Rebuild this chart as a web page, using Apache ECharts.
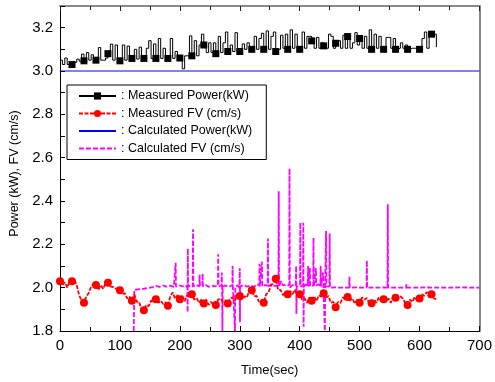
<!DOCTYPE html>
<html>
<head>
<meta charset="utf-8">
<script src="https://cdn.jsdelivr.net/npm/echarts/dist/echarts.min.js"></script>
<style>
html,body{margin:0;padding:0;background:#fff;}
#chart{width:495px;height:382px;}
</style>
</head>
<body>
<div id="chart"></div>
<script>
// ---- data ----
const seriesNames = ['Measured Power(kW)', 'Measured FV (cm/s)', 'Calculated Power(kW)', 'Calculated FV (cm/s)'];
const xTicks = [0, 100, 200, 300, 400, 500, 600, 700];
const yTicks = [1.8, 2.0, 2.2, 2.4, 2.6, 2.8, 3.0, 3.2];
const sampleStepSec = 4; // measured series sampled every 4 s, starting at 0 s

const measuredPower = [
  3.05,3.03,3.06,3.03,3.03,3.03,3.04,3.055,3.045,3.078,
  3.047,3.085,3.05,3.075,3.05,3.05,3.108,3.05,3.05,3.06,
  3.08,3.124,3.05,3.12,3.05,3.047,3.12,3.05,3.115,3.05,
  3.058,3.10,3.055,3.11,3.055,3.058,3.105,3.14,3.058,3.125,
  3.058,3.15,3.058,3.105,3.058,3.058,3.15,3.058,3.09,3.06,
  3.06,3.01,3.07,3.07,3.162,3.07,3.14,3.07,3.12,3.17,
  3.12,3.085,3.13,3.085,3.13,3.08,3.16,3.085,3.13,3.18,
  3.09,3.12,3.09,3.177,3.09,3.09,3.125,3.10,3.13,3.10,
  3.10,3.16,3.10,3.15,3.174,3.10,3.185,3.10,3.16,3.18,
  3.09,3.10,3.165,3.105,3.17,3.10,3.19,3.105,3.17,3.105,
  3.10,3.18,3.105,3.16,3.16,3.139,3.105,3.155,3.105,3.13,
  3.116,3.105,3.17,3.16,3.105,3.128,3.14,3.105,3.165,3.105,
  3.159,3.105,3.13,3.177,3.12,3.15,3.105,3.16,3.105,3.19,
  3.10,3.17,3.105,3.16,3.105,3.10,3.155,3.155,3.105,3.15,
  3.10,3.105,3.13,3.105,3.12,3.10,3.105,3.105,3.105,3.105,
  3.10,3.15,3.18,3.105,3.177,3.17,3.17,3.11
];

const measuredFV = [
  2.03,2.01,2.025,2.0,2.028,2.03,2.038,2.01,1.965,1.94,
  1.93,1.96,1.975,2.005,2.018,2.012,1.99,2.012,1.995,2.02,
  2.023,2.005,2.004,1.995,1.998,1.988,1.97,1.975,1.95,1.958,
  1.94,1.968,1.935,1.935,1.9,1.896,1.92,1.915,1.94,1.935,
  1.947,1.93,1.94,1.925,1.933,1.916,1.96,1.978,1.95,1.965,
  1.947,1.962,1.938,1.965,1.958,1.97,1.945,1.952,1.93,1.945,
  1.927,1.945,1.92,1.935,1.92,1.92,1.945,1.95,1.935,1.942,
  1.927,1.95,1.955,1.94,1.97,1.962,1.945,1.96,1.955,1.99,
  1.988,1.96,1.962,1.935,1.942,1.93,1.97,1.978,2.01,2.02,
  2.041,1.99,1.99,1.965,1.98,1.97,1.985,1.97,1.99,1.965,
  1.97,1.945,1.952,1.93,1.955,1.94,1.96,1.938,1.965,1.958,
  1.974,1.955,1.962,1.93,1.935,1.91,1.935,1.93,1.955,1.945,
  1.957,1.94,1.95,1.926,1.945,1.93,1.955,1.945,1.952,1.928,
  1.928,1.945,1.93,1.955,1.938,1.947,1.935,1.95,1.93,1.96,
  1.954,1.962,1.96,1.95,1.93,1.92,1.945,1.935,1.957,1.94,
  1.95,1.97,1.962,1.98,1.955,1.97,1.95,1.947
];

const calcPowerTime = [0, 700];
const calcPowerValue = [3.0, 3.0];

const calcFvTime = [
  123,124,140,155,160,166,172,178,184,190,192.5,193,193.5,199,205,210,212.5,213,213.3,213.7,
  218,221.5,222,222.5,227,232.5,233,233.5,237.5,238,238.5,243,248,253,258,263.5,264,264.5,269.5,270,
  270.5,271,271.5,276,281,287.5,288,288.5,291.5,292,292.5,296,299.5,300,300.3,300.6,306,312,318,324,
  329,332.5,333,333.5,336.5,337,337.5,342,346.5,347,347.5,352,358,364.5,365,365.5,369,372,377,382.5,
  383,383.5,388,393.5,394,394.5,395,400.5,401,401.5,405.5,406,406.5,407,410,413.5,414,414.5,417,417.5,
  422.5,423,423.5,427,427.5,431,434.5,435,435.5,439,439.5,441.5,442,442.5,444,444.5,449.5,450,450.5,460,
  470,482.5,483,483.5,495,505,511.5,512,512.5,525,540,546.5,547,547.5,560,577.5,578,578.5,590,610,
  630,650,670,700
];
const calcFvValue = [
  1.80,1.99,1.995,2.003,2.008,2.004,2.01,2.005,2.009,2.004,2.006,2.115,2.005,2.01,2.006,2.01,2.0,1.887,2.18,2.005,
  2.01,2.005,2.27,2.006,2.012,2.006,2.06,2.008,2.01,2.065,2.006,2.012,2.004,2.01,2.006,2.01,2.154,2.005,2.01,2.07,
  2.0,1.80,2.005,2.01,2.004,2.01,2.10,2.005,2.0,1.80,2.005,2.01,2.0,2.09,1.84,2.005,2.012,2.005,2.01,2.004,
  2.015,2.01,2.11,2.005,2.01,2.12,2.006,2.012,2.01,2.227,2.006,2.015,2.008,2.01,2.445,2.005,2.03,2.01,2.015,2.01,
  2.55,2.0,2.012,2.01,2.10,1.88,2.005,2.01,2.30,2.005,2.01,2.30,1.82,2.005,2.015,2.01,2.10,2.005,2.09,2.006,
  2.01,2.23,2.005,2.09,2.01,2.015,2.01,2.10,2.005,2.07,2.01,2.005,1.80,2.005,2.262,2.006,2.005,2.25,2.0,2.001,
  2.0,2.0,2.05,2.0,2.001,2.0,2.0,2.125,2.0,2.0,2.001,2.0,2.385,2.0,2.0,2.0,2.015,2.0,2.0,2.001,
  2.0,2.0,2.001,2.0
];

// ---- build series data ----
const pairs = (ts, vs) => ts.map((t, i) => [t, vs[i]]);
const sampled = vs => vs.map((v, i) => [i * sampleStepSec, v]);
const markerEvery = 5; // one marker every 20 s

const chart = echarts.init(document.getElementById('chart'), null, {renderer: 'canvas'});
const font = 'Liberation Sans, Arial, sans-serif';

chart.setOption({
  animation: false,
  backgroundColor: '#fff',
  grid: {left: 60, right: 12, top: 6, bottom: 48, containLabel: false},
  legend: {
    orient: 'vertical',
    left: 67, top: 85,
    backgroundColor: '#fff',
    borderColor: '#000', borderWidth: 1,
    padding: [4, 14, 4, 11],
    itemGap: 3.5,
    itemWidth: 37, itemHeight: 9,
    itemTextGap: 3,
    data: [
      {name: seriesNames[0]},
      {name: seriesNames[1]},
      {name: seriesNames[2], itemStyle: {opacity: 0, borderWidth: 0}},
      {name: seriesNames[3], itemStyle: {opacity: 0, borderWidth: 0}}
    ],
    formatter: n => ': ' + n,
    textStyle: {fontFamily: font, fontSize: 12.5, color: '#000', lineHeight: 14}
  },
  xAxis: [{
    type: 'value', min: 0, max: 700, interval: 100, position: 'bottom',
    name: 'Time(sec)', nameLocation: 'middle', nameGap: 33,
    nameTextStyle: {fontFamily: font, fontSize: 13, color: '#000'},
    axisLine: {show: true, onZero: false, lineStyle: {color: '#000', width: 1}},
    axisTick: {show: true, inside: true, length: 5, lineStyle: {color: '#000'}},
    minorTick: {show: true, splitNumber: 2, length: 4, lineStyle: {color: '#000'}},
    splitLine: {show: false},
    axisLabel: {fontFamily: font, fontSize: 15, color: '#000', margin: 7,
      formatter: v => xTicks.indexOf(v) >= 0 ? String(v) : ''}
  }, {
    type: 'value', min: 0, max: 700, interval: 100, position: 'top',
    axisLine: {show: true, onZero: false, lineStyle: {color: '#888', width: 2}},
    axisTick: {show: true, inside: true, length: 5, lineStyle: {color: '#222'}},
    minorTick: {show: true, splitNumber: 2, length: 4, lineStyle: {color: '#222'}},
    splitLine: {show: false},
    axisLabel: {show: false}
  }],
  yAxis: [{
    type: 'value', min: 1.8, max: 3.3, interval: 0.2, position: 'left',
    name: 'Power (kW), FV (cm/s)', nameLocation: 'middle', nameGap: 37,
    nameTextStyle: {fontFamily: font, fontSize: 12.5, color: '#000', padding: [0, 10, 0, 0]},
    axisLine: {show: true, onZero: false, lineStyle: {color: '#000', width: 1}},
    axisTick: {show: true, inside: true, length: 5, lineStyle: {color: '#000'}},
    minorTick: {show: true, splitNumber: 2, length: 5, lineStyle: {color: '#000'}},
    splitLine: {show: false},
    axisLabel: {fontFamily: font, fontSize: 15, color: '#000', margin: 7, showMaxLabel: false,
      formatter: v => {
        const hit = yTicks.find(t => Math.abs(t - v) < 1e-6);
        return hit === undefined ? '' : hit.toFixed(1);
      }}
  }, {
    type: 'value', min: 1.8, max: 3.3, interval: 0.2, position: 'right',
    axisLine: {show: true, onZero: false, lineStyle: {color: '#888', width: 2}},
    axisTick: {show: false},
    splitLine: {show: false},
    axisLabel: {show: false}
  }],
  series: [
    {
      name: seriesNames[0], type: 'line', step: 'end',
      data: sampled(measuredPower),
      showAllSymbol: true,
      symbol: 'rect',
      symbolSize: (v, p) => (p.dataIndex % markerEvery === 0 && p.dataIndex > 0) ? 7 : 0,
      lineStyle: {color: '#000', width: 1},
      itemStyle: {color: '#000'},
      z: 3
    },
    {
      name: seriesNames[1], type: 'line',
      data: sampled(measuredFV),
      showAllSymbol: true,
      symbol: 'circle',
      symbolSize: (v, p) => (p.dataIndex % markerEvery === 0) ? 8 : 0,
      lineStyle: {color: '#ff0000', width: 1.8, type: [4, 1.5]},
      itemStyle: {color: '#ff0000'},
      z: 3
    },
    {
      name: seriesNames[2], type: 'line',
      data: pairs(calcPowerTime, calcPowerValue),
      symbol: 'none',
      lineStyle: {color: '#0000ff', width: 1},
      itemStyle: {color: '#0000ff'},
      z: 2
    },
    {
      name: seriesNames[3], type: 'line',
      data: pairs(calcFvTime, calcFvValue),
      symbol: 'none',
      lineStyle: {color: '#ff00ff', width: 1.8, type: [5, 2]},
      itemStyle: {color: '#ff00ff'},
      z: 2
    }
  ]
});
</script>
</body>
</html>
